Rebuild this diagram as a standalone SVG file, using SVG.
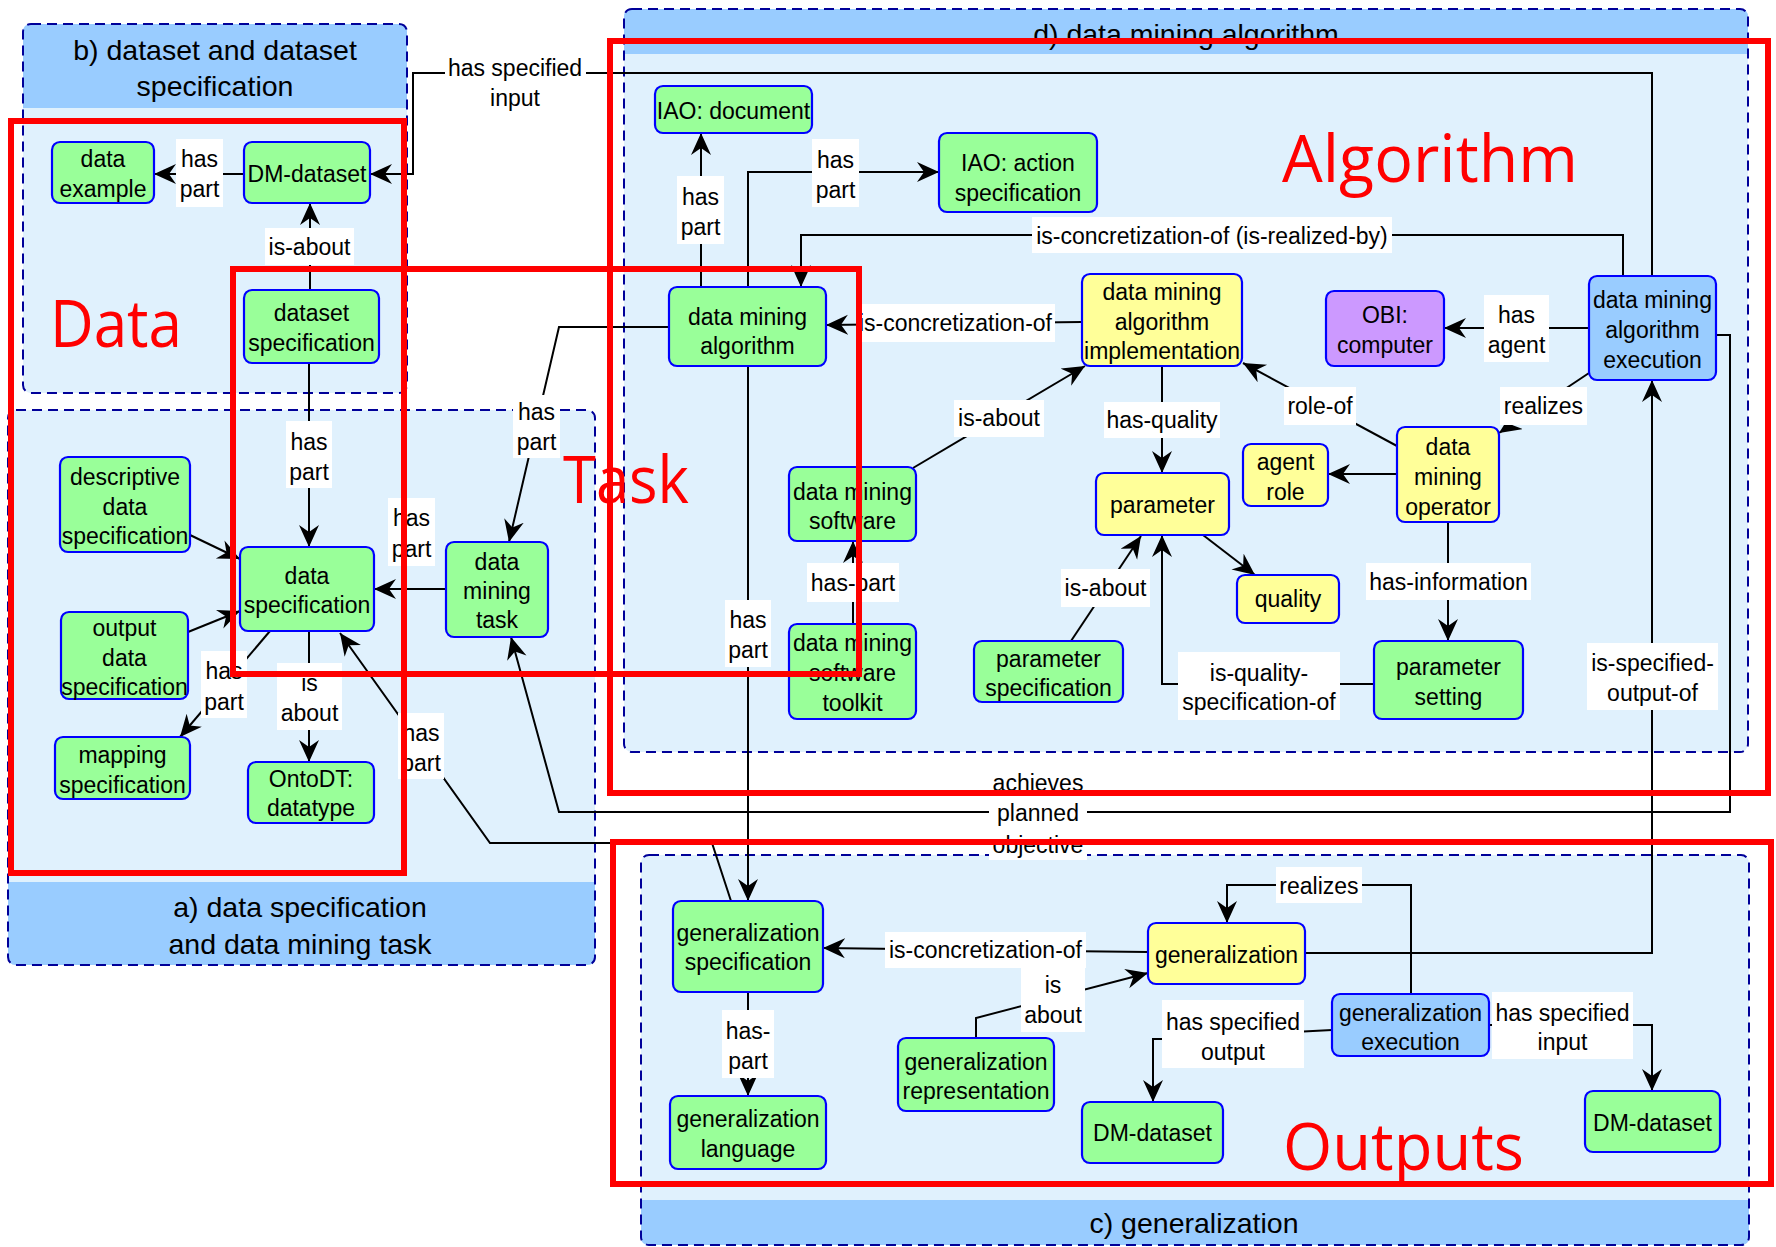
<svg xmlns="http://www.w3.org/2000/svg" width="1776" height="1247" viewBox="0 0 1776 1247">
<style>
  .grp-body{fill:#e0f1fd}
  .grp-head{fill:#99ccff}
  .grp-edge{fill:none;stroke:#000099;stroke-width:2;stroke-dasharray:10 6}
  .node rect{stroke:#0000ff;stroke-width:2.2}
  .gr{fill:#99ff99}.ye{fill:#ffff99}.pu{fill:#cc99ff}.bl{fill:#99ccff}
  text{font-family:"Liberation Sans",Arial,Helvetica,sans-serif;fill:#000}
  .t{font-size:23px;text-anchor:middle;dominant-baseline:central}
  .title{font-size:28.5px;text-anchor:middle}
  .conn path{fill:none;stroke:#000;stroke-width:2;marker-end:url(#ah)}
  .lbl rect{fill:#fff}
  .hl rect{fill:none;stroke:#ff0000;stroke-width:6}
  .hl text{font-family:"Open Sans","Noto Sans",sans-serif;font-size:66px;fill:#ff0000}
</style>
<defs>
  <marker id="ah" markerWidth="24" markerHeight="22" refX="22" refY="10" orient="auto" markerUnits="userSpaceOnUse">
    <path d="M0,0 L22,10 L0,20 L7,10 z" fill="#000"/>
  </marker>
</defs>
<rect width="1776" height="1247" fill="#fff"/>

<!-- ontology section frames -->
<g id="sec-b">
  <rect class="grp-body" x="23" y="24" width="384" height="369" rx="8"/>
  <path class="grp-head" d="M23,108 V32 Q23,24 31,24 H399 Q407,24 407,32 V108 Z"/>
  <rect class="grp-edge" x="23" y="24" width="384" height="369" rx="8"/>
  <text class="title" x="215" y="60">b) dataset and dataset</text>
  <text class="title" x="215" y="96">specification</text>
</g>
<g id="sec-a">
  <rect class="grp-body" x="8" y="410" width="587" height="555" rx="8"/>
  <path class="grp-head" d="M8,882 H595 V957 Q595,965 587,965 H16 Q8,965 8,957 Z"/>
  <rect class="grp-edge" x="8" y="410" width="587" height="555" rx="8"/>
  <text class="title" x="300" y="917">a) data specification</text>
  <text class="title" x="300" y="954">and data mining task</text>
</g>
<g id="sec-d">
  <rect class="grp-body" x="624" y="9" width="1124" height="743" rx="8"/>
  <path class="grp-head" d="M624,54 V17 Q624,9 632,9 H1740 Q1748,9 1748,17 V54 Z"/>
  <rect class="grp-edge" x="624" y="9" width="1124" height="743" rx="8"/>
  <text class="title" x="1186" y="44">d) data mining algorithm</text>
</g>
<g id="sec-c">
  <rect class="grp-body" x="641" y="855" width="1108" height="390" rx="8"/>
  <path class="grp-head" d="M641,1200 H1749 V1237 Q1749,1245 1741,1245 H649 Q641,1245 641,1237 Z"/>
  <rect class="grp-edge" x="641" y="855" width="1108" height="390" rx="8"/>
  <text class="title" x="1194" y="1233">c) generalization</text>
</g>

<!-- connectors -->
<g id="connectors" class="conn">
  <path d="M244,174 H154"/>
  <path d="M1652,276 V73 H413 V174 H370"/>
  <path d="M310,290 V203"/>
  <path d="M309,363 V547"/>
  <path d="M190,535 L240,559"/>
  <path d="M188,632 L240,611"/>
  <path d="M270,631 L180,737"/>
  <path d="M309,631 V762"/>
  <path d="M446,589 H374"/>
  <path d="M669,327 H559 L509,542"/>
  <path d="M731,901 L712,843 H490 L340,633"/>
  <path d="M1716,335 H1730 V812 H559 L511,637"/>
  <path d="M701,287 V133"/>
  <path d="M748,287 V172 H939"/>
  <path d="M1623,276 V235 H801 V287"/>
  <path d="M1082,322 L826,325"/>
  <path d="M913,468 L1085,366"/>
  <path d="M1162,366 V473"/>
  <path d="M853,624 V541"/>
  <path d="M1071,641 L1141,536"/>
  <path d="M1374,684 H1162 V535"/>
  <path d="M1203,535 L1255,575"/>
  <path d="M1397,474 H1328"/>
  <path d="M1397,446 L1243,363"/>
  <path d="M1589,328 H1444"/>
  <path d="M1589,373 L1499,433"/>
  <path d="M1448,522 V641"/>
  <path d="M1305,953 H1652 V380"/>
  <path d="M748,366 V901"/>
  <path d="M1148,952 L823,948"/>
  <path d="M976,1038 V1018 L1148,973"/>
  <path d="M748,992 V1096"/>
  <path d="M1411,994 V885 H1227 V923"/>
  <path d="M1332,1030 L1162,1039 H1153 V1102"/>
  <path d="M1489,1025 H1652 V1091"/>
</g>

<!-- connector labels -->
<g id="labels" class="lbl">
  <rect x="176" y="139" width="47" height="68"/><text class="t" x="199.5" y="159">has</text><text class="t" x="199.5" y="189">part</text>
  <rect x="445" y="52" width="141" height="60"/><text class="t" x="515" y="68">has specified</text><text class="t" x="515" y="98">input</text>
  <rect x="265" y="228" width="89" height="37"/><text class="t" x="309.5" y="247">is-about</text>
  <rect x="286" y="421" width="46" height="67"/><text class="t" x="309" y="442">has</text><text class="t" x="309" y="472">part</text>
  <rect x="201" y="651" width="46" height="67"/><text class="t" x="224" y="671">has</text><text class="t" x="224" y="702">part</text>
  <rect x="277" y="663" width="65" height="67"/><text class="t" x="309.5" y="683">is</text><text class="t" x="309.5" y="713">about</text>
  <rect x="388" y="498" width="47" height="68"/><text class="t" x="411.5" y="518">has</text><text class="t" x="411.5" y="549">part</text>
  <rect x="513" y="395" width="47" height="63"/><text class="t" x="536.5" y="412">has</text><text class="t" x="536.5" y="442">part</text>
  <rect x="398" y="713" width="46" height="66"/><text class="t" x="421" y="733">has</text><text class="t" x="421" y="763">part</text>
  <rect x="989" y="768" width="98" height="92"/><text class="t" x="1038" y="783">achieves</text><text class="t" x="1038" y="813">planned</text><text class="t" x="1038" y="845">objective</text>
  <rect x="677" y="176" width="47" height="68"/><text class="t" x="700.5" y="197">has</text><text class="t" x="700.5" y="227">part</text>
  <rect x="812" y="139" width="47" height="68"/><text class="t" x="835.5" y="160">has</text><text class="t" x="835.5" y="190">part</text>
  <rect x="1032" y="217" width="360" height="36"/><text class="t" x="1212" y="236">is-concretization-of (is-realized-by)</text>
  <rect x="856" y="304" width="199" height="38"/><text class="t" x="955.5" y="323">is-concretization-of</text>
  <rect x="954" y="400" width="90" height="37"/><text class="t" x="999" y="418">is-about</text>
  <rect x="1104" y="402" width="116" height="36"/><text class="t" x="1162" y="420">has-quality</text>
  <rect x="807" y="563" width="92" height="39"/><text class="t" x="853" y="583">has-part</text>
  <rect x="1061" y="569" width="89" height="38"/><text class="t" x="1105.5" y="588">is-about</text>
  <rect x="1178" y="652" width="162" height="68"/><text class="t" x="1259" y="673">is-quality-</text><text class="t" x="1259" y="702">specification-of</text>
  <rect x="1284" y="387" width="72" height="38"/><text class="t" x="1320" y="406">role-of</text>
  <rect x="1484" y="295" width="65" height="67"/><text class="t" x="1516.5" y="315">has</text><text class="t" x="1516.5" y="345">agent</text>
  <rect x="1500" y="387" width="87" height="38"/><text class="t" x="1543.5" y="406">realizes</text>
  <rect x="1366" y="563" width="165" height="37"/><text class="t" x="1448.5" y="582">has-information</text>
  <rect x="1587" y="643" width="131" height="67"/><text class="t" x="1652.5" y="663">is-specified-</text><text class="t" x="1652.5" y="693">output-of</text>
  <rect x="725" y="600" width="46" height="67"/><text class="t" x="748" y="620">has</text><text class="t" x="748" y="650">part</text>
  <rect x="885" y="932" width="201" height="36"/><text class="t" x="985.5" y="950">is-concretization-of</text>
  <rect x="1021" y="968" width="64" height="64"/><text class="t" x="1053" y="985">is</text><text class="t" x="1053" y="1015">about</text>
  <rect x="722" y="1010" width="52" height="68"/><text class="t" x="748" y="1031">has-</text><text class="t" x="748" y="1061">part</text>
  <rect x="1276" y="867" width="86" height="36"/><text class="t" x="1319" y="886">realizes</text>
  <rect x="1162" y="1000" width="142" height="68"/><text class="t" x="1233" y="1022">has specified</text><text class="t" x="1233" y="1052">output</text>
  <rect x="1492" y="992" width="141" height="67"/><text class="t" x="1562.5" y="1013">has specified</text><text class="t" x="1562.5" y="1042">input</text>
</g>

<!-- b) dataset and dataset specification -->
<g id="n-data-example" class="node"><rect class="gr" x="52" y="142" width="102" height="61" rx="8"/><text class="t" x="103" y="159">data</text><text class="t" x="103" y="189">example</text></g>
<g id="n-dm-dataset" class="node"><rect class="gr" x="244" y="142" width="126" height="61" rx="8"/><text class="t" x="307" y="174">DM-dataset</text></g>
<g id="n-dataset-spec" class="node"><rect class="gr" x="244" y="290" width="135" height="73" rx="8"/><text class="t" x="311.5" y="313">dataset</text><text class="t" x="311.5" y="343">specification</text></g>

<!-- a) data specification and data mining task -->
<g id="n-descriptive-spec" class="node"><rect class="gr" x="60" y="457" width="130" height="95" rx="8"/><text class="t" x="125" y="477">descriptive</text><text class="t" x="125" y="507">data</text><text class="t" x="125" y="536">specification</text></g>
<g id="n-data-spec" class="node"><rect class="gr" x="240" y="547" width="134" height="84" rx="8"/><text class="t" x="307" y="576">data</text><text class="t" x="307" y="605">specification</text></g>
<g id="n-dm-task" class="node"><rect class="gr" x="446" y="542" width="102" height="95" rx="8"/><text class="t" x="497" y="562">data</text><text class="t" x="497" y="591">mining</text><text class="t" x="497" y="620">task</text></g>
<g id="n-output-spec" class="node"><rect class="gr" x="61" y="612" width="127" height="87" rx="8"/><text class="t" x="124.5" y="628">output</text><text class="t" x="124.5" y="658">data</text><text class="t" x="124.5" y="687">specification</text></g>
<g id="n-mapping-spec" class="node"><rect class="gr" x="55" y="737" width="135" height="62" rx="8"/><text class="t" x="122.5" y="755">mapping</text><text class="t" x="122.5" y="785">specification</text></g>
<g id="n-ontodt" class="node"><rect class="gr" x="248" y="762" width="126" height="61" rx="8"/><text class="t" x="311" y="779">OntoDT:</text><text class="t" x="311" y="808">datatype</text></g>

<!-- d) data mining algorithm -->
<g id="n-iao-document" class="node"><rect class="gr" x="655" y="86" width="157" height="47" rx="8"/><text class="t" x="733.5" y="111">IAO: document</text></g>
<g id="n-iao-action" class="node"><rect class="gr" x="939" y="133" width="158" height="79" rx="8"/><text class="t" x="1018" y="163">IAO: action</text><text class="t" x="1018" y="193">specification</text></g>
<g id="n-dm-algorithm" class="node"><rect class="gr" x="669" y="287" width="157" height="79" rx="8"/><text class="t" x="747.5" y="317">data mining</text><text class="t" x="747.5" y="346">algorithm</text></g>
<g id="n-dm-implementation" class="node"><rect class="ye" x="1082" y="274" width="160" height="92" rx="8"/><text class="t" x="1162" y="292">data mining</text><text class="t" x="1162" y="322">algorithm</text><text class="t" x="1162" y="351">implementation</text></g>
<g id="n-obi-computer" class="node"><rect class="pu" x="1326" y="291" width="118" height="75" rx="8"/><text class="t" x="1385" y="315">OBI:</text><text class="t" x="1385" y="345">computer</text></g>
<g id="n-dm-execution" class="node"><rect class="bl" x="1589" y="276" width="127" height="104" rx="8"/><text class="t" x="1652.5" y="300">data mining</text><text class="t" x="1652.5" y="330">algorithm</text><text class="t" x="1652.5" y="360">execution</text></g>
<g id="n-dm-software" class="node"><rect class="gr" x="789" y="467" width="127" height="74" rx="8"/><text class="t" x="852.5" y="492">data mining</text><text class="t" x="852.5" y="521">software</text></g>
<g id="n-dm-toolkit" class="node"><rect class="gr" x="789" y="624" width="127" height="95" rx="8"/><text class="t" x="852.5" y="643">data mining</text><text class="t" x="852.5" y="673">software</text><text class="t" x="852.5" y="703">toolkit</text></g>
<g id="n-parameter" class="node"><rect class="ye" x="1096" y="473" width="133" height="62" rx="8"/><text class="t" x="1162.5" y="505">parameter</text></g>
<g id="n-agent-role" class="node"><rect class="ye" x="1243" y="444" width="85" height="62" rx="8"/><text class="t" x="1285.5" y="462">agent</text><text class="t" x="1285.5" y="492">role</text></g>
<g id="n-dm-operator" class="node"><rect class="ye" x="1397" y="427" width="102" height="95" rx="8"/><text class="t" x="1448" y="447">data</text><text class="t" x="1448" y="477">mining</text><text class="t" x="1448" y="507">operator</text></g>
<g id="n-quality" class="node"><rect class="ye" x="1237" y="575" width="102" height="48" rx="8"/><text class="t" x="1288" y="599">quality</text></g>
<g id="n-parameter-spec" class="node"><rect class="gr" x="974" y="641" width="149" height="61" rx="8"/><text class="t" x="1048.5" y="659">parameter</text><text class="t" x="1048.5" y="688">specification</text></g>
<g id="n-parameter-setting" class="node"><rect class="gr" x="1374" y="641" width="149" height="78" rx="8"/><text class="t" x="1448.5" y="667">parameter</text><text class="t" x="1448.5" y="697">setting</text></g>

<!-- c) generalization -->
<g id="n-gen-spec" class="node"><rect class="gr" x="673" y="901" width="150" height="91" rx="8"/><text class="t" x="748" y="933">generalization</text><text class="t" x="748" y="962">specification</text></g>
<g id="n-gen-language" class="node"><rect class="gr" x="670" y="1096" width="156" height="73" rx="8"/><text class="t" x="748" y="1119">generalization</text><text class="t" x="748" y="1149">language</text></g>
<g id="n-gen-representation" class="node"><rect class="gr" x="898" y="1038" width="156" height="73" rx="8"/><text class="t" x="976" y="1062">generalization</text><text class="t" x="976" y="1091">representation</text></g>
<g id="n-dm-dataset-out" class="node"><rect class="gr" x="1082" y="1102" width="141" height="61" rx="8"/><text class="t" x="1152.5" y="1133">DM-dataset</text></g>
<g id="n-generalization" class="node"><rect class="ye" x="1148" y="923" width="157" height="61" rx="8"/><text class="t" x="1226.5" y="955">generalization</text></g>
<g id="n-gen-execution" class="node"><rect class="bl" x="1332" y="994" width="157" height="62" rx="8"/><text class="t" x="1410.5" y="1013">generalization</text><text class="t" x="1410.5" y="1042">execution</text></g>
<g id="n-dm-dataset-in" class="node"><rect class="gr" x="1585" y="1091" width="135" height="61" rx="8"/><text class="t" x="1652.5" y="1123">DM-dataset</text></g>

<!-- red highlight regions -->
<g id="highlights" class="hl">
  <rect x="11" y="121" width="393" height="752"/>
  <rect x="233" y="269" width="626" height="405"/>
  <rect x="610" y="41" width="1158" height="752"/>
  <rect x="613" y="842" width="1158" height="342"/>
  <text x="50" y="347" textLength="132" lengthAdjust="spacingAndGlyphs">Data</text>
  <text x="563" y="503" textLength="126" lengthAdjust="spacingAndGlyphs">Task</text>
  <text x="1282" y="182" textLength="296" lengthAdjust="spacingAndGlyphs">Algorithm</text>
  <text x="1283" y="1170" textLength="241" lengthAdjust="spacingAndGlyphs">Outputs</text>
</g>
</svg>
